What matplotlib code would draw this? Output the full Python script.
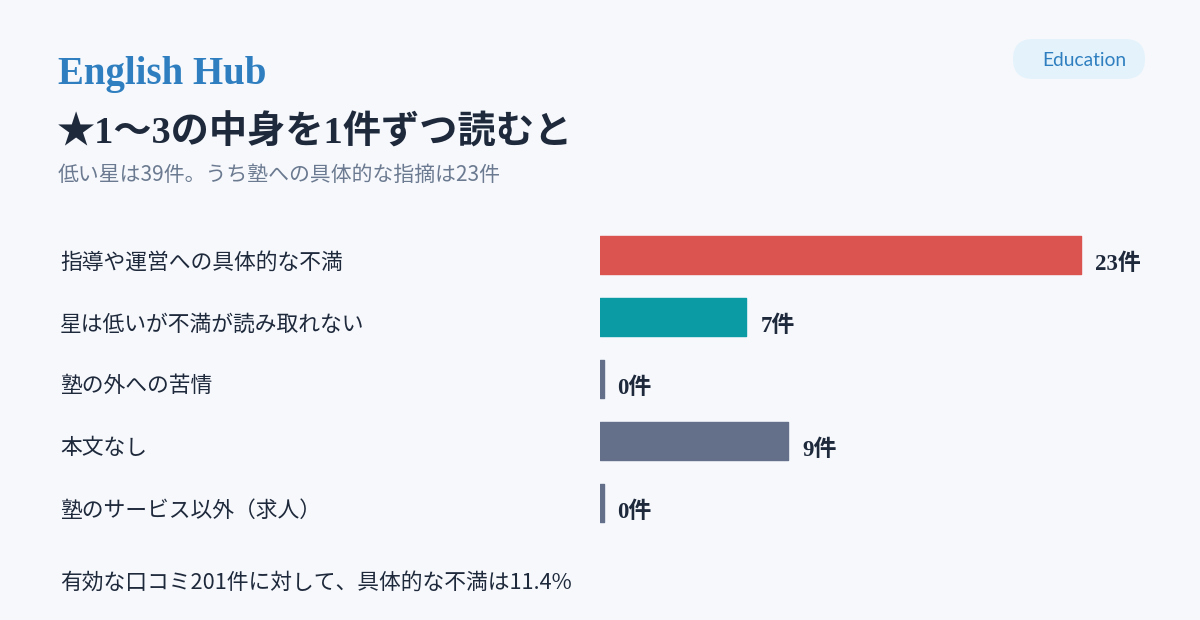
import matplotlib
matplotlib.use("Agg")
import matplotlib.pyplot as plt
from matplotlib.patches import FancyBboxPatch
import matplotlib.transforms as mtransforms

categories = ["指導や運営への具体的な不満", "星は低いが不満が読み取れない", "塾の外への苦情", "本文なし", "塾のサービス以外（求人）"]
values = [23, 7, 0, 9, 0]
colors = ["#db5450", "#0a9ba5", "#64708a", "#64708a", "#64708a"]

brand = "English Hub"
tag = "Education"
title = "★1〜3の中身を1件ずつ読むと"
subtitle = "低い星は39件。うち塾への具体的な指摘は23件"
footer = "有効な口コミ201件に対して、具体的な不満は11.4%"

W, H = 1200, 620
BG = "#f6f8fc"
JP = ["Noto Sans CJK JP", "DejaVu Sans"]
SERIF = ["Liberation Serif", "Noto Sans CJK JP", "DejaVu Sans"]

fig = plt.figure(figsize=(W / 100, H / 100), dpi=100)
fig.patch.set_facecolor(BG)

# overlay axes in pixel units for header decorations
ov = fig.add_axes([0, 0, 1, 1])
ov.set_xlim(0, W)
ov.set_ylim(H, 0)
ov.axis("off")
ov.set_facecolor("none")

ov.text(58, 84, brand, family=SERIF, fontsize=28, fontweight="bold",
        color="#2f7fc0", va="baseline", ha="left")
pill = FancyBboxPatch((1013, 39), 132, 40,
                      boxstyle="round,pad=0,rounding_size=20",
                      facecolor="#e4f3fb", edgecolor="none")
ov.add_patch(pill)
ov.text(1084, 60, tag, family=["Lato", "DejaVu Sans"], fontsize=13.8,
        color="#2f7fc0", va="center", ha="center")
ov.text(57, 133, title, family=SERIF, fontsize=27.5, fontweight="bold",
        color="#1e293b", va="center", ha="left")
ov.text(58, 175, subtitle, family=JP, fontsize=15,
        color="#6b7a90", va="center", ha="left")
ov.text(60, 583, footer, family=JP, fontsize=15.7,
        color="#1e293b", va="center", ha="left")

# bars
xmax = 24.5
px_per_unit = 481 / 23
ax_w = px_per_unit * xmax
ax = fig.add_axes([600 / W, 1 - 534 / H, ax_w / W, 310 / H])
ax.set_facecolor("none")
ax.set_xlim(0, xmax)
ax.set_ylim(len(categories) - 0.5, -0.5)
ax.axis("off")

min_w = 0.17
trans = mtransforms.blended_transform_factory(fig.transFigure, ax.transData)
for i, (cat, v, c) in enumerate(zip(categories, values, colors)):
    w = max(v, min_w)
    ax.barh(i, w, height=0.6, color=c, edgecolor=c, linewidth=1.0,
            joinstyle="round", left=0)
    ax.text(w + 14 / px_per_unit, i + 0.15, f"{v}件", family=SERIF, fontsize=16.5,
            fontweight="bold", color="#1e293b", va="center", ha="left")
    ax.text(60 / W, i + 0.12, cat, transform=trans, family=JP, fontsize=15.7,
            color="#1e293b", va="center", ha="left")

fig.savefig("out.png", dpi=100, facecolor=BG)
